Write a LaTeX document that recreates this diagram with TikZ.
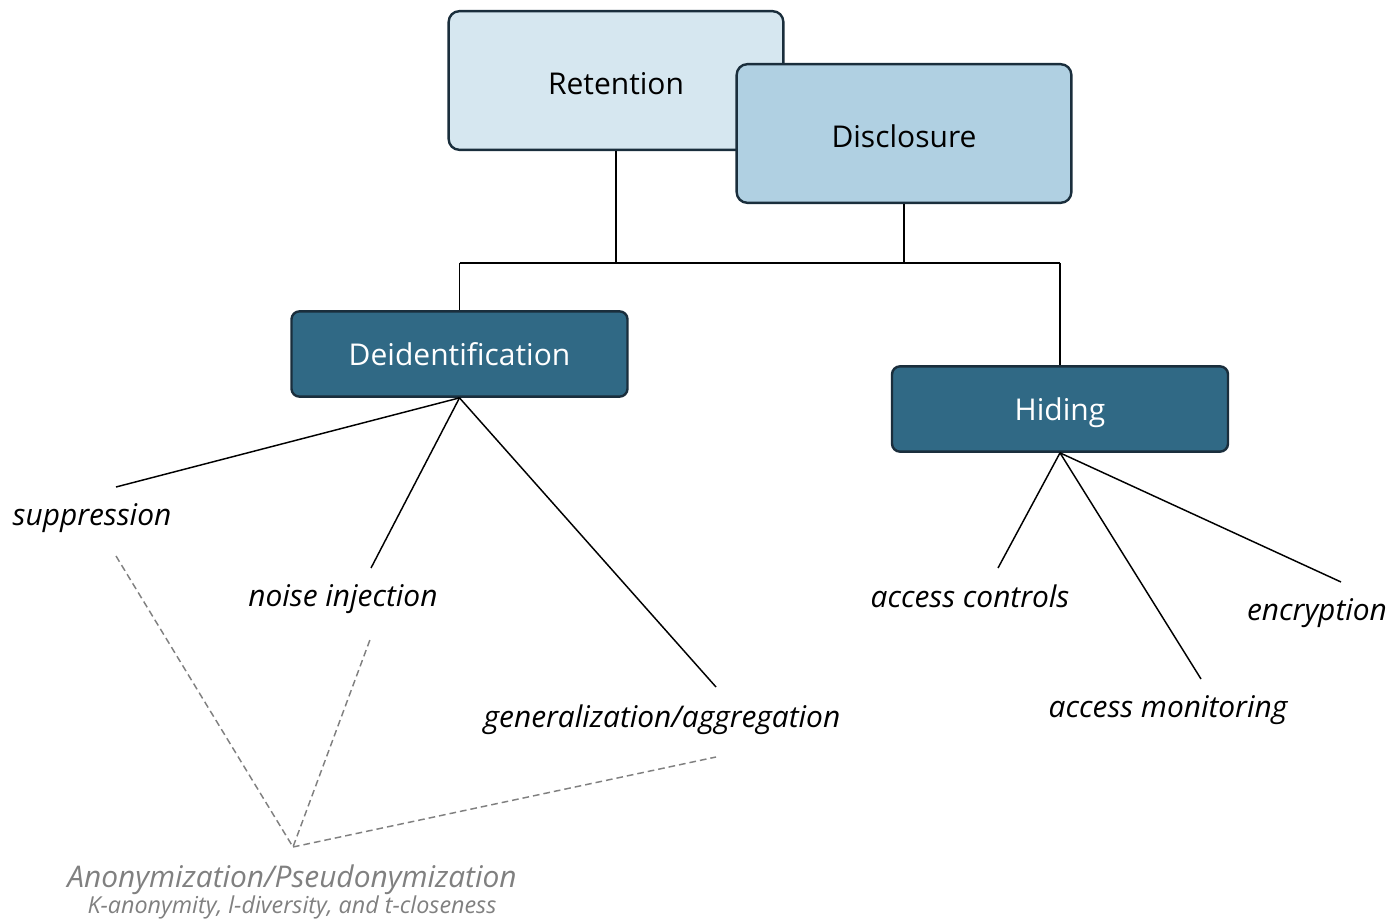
\documentclass[tikz,border=0pt]{standalone}
\usepackage{fontspec}
\setmainfont{Open Sans}
\usetikzlibrary{positioning}

\definecolor{paleblue}{HTML}{D6E7F0}
\definecolor{midblue}{HTML}{B0D0E2}
\definecolor{deepblue}{HTML}{306985}
\definecolor{edgeblue}{HTML}{1A2E3C}
\definecolor{softgray}{HTML}{808080}

\tikzset{
  topbox/.style={draw=edgeblue,line width=1.8pt,rounded corners=8pt,minimum width=251pt,minimum height=104pt,text height=21pt,text depth=0pt,font=\fontsize{22.5}{27}\selectfont},
  lowbox/.style={draw=edgeblue,line width=1.8pt,rounded corners=6pt,fill=deepblue,text=white,minimum width=252pt,minimum height=64pt,text depth=0pt,font=\fontsize{22.5}{27}\selectfont},
  leaf/.style={font=\fontsize{22.4}{27}\selectfont\itshape,inner sep=0pt,text depth=0pt},
  branch/.style={draw=black,line width=1.1pt},
  hint/.style={draw=softgray,line width=1.1pt,dashed,dash pattern=on 5pt off 3pt},
}

\begin{document}
\begin{tikzpicture}[x=0.75pt,y=-0.75pt]
  \useasboundingbox (0,0) rectangle (1395,923);

  % top level
  \node[topbox,fill=paleblue] (retention) at (616,80.5) {Retention};
  \node[topbox,fill=midblue] (disclosure) at (904,133.5) {Disclosure};

  % second level
  \node[lowbox] (deid) at (459.5,354) {Deidentification};
  \node[lowbox] (hiding) at (1060,409) {Hiding};

  \coordinate (join) at (retention.south |- 0,263);
  \coordinate (joinl) at (deid.north |- join);
  \coordinate (joinr) at (hiding.north |- join);

  % leaves under deidentification
  \node[leaf] (suppr) at (92,515) {suppression};
  \node[leaf] (noise) at (343,596) {noise injection};
  \node[leaf] (gener) at (662,716) {generalization/aggregation};
  \coordinate (supprtop) at (116,487);
  \coordinate (noisetop) at (371,568);
  \coordinate (genertop) at (716,687);

  % leaves under hiding
  \node[leaf] (acc) at (970,596) {access controls};
  \node[leaf] (mon) at (1168,707) {access monitoring};
  \node[leaf] (enc) at (1317,610) {encryption};
  \coordinate (acctop) at (998,568);
  \coordinate (montop) at (1201,679);
  \coordinate (enctop) at (1341,582);

  % anonymization
  \node[leaf,text=softgray] (anon) at (292,876) {Anonymization/Pseudonymization};
  \node[text=softgray,font=\fontsize{17.5}{21}\selectfont\itshape,inner sep=0pt,below=6pt of anon] (anonsub) {K-anonymity, l-diversity, and t-closeness};
  \coordinate (meet) at (293,847);
  \coordinate (supprlow) at (116,556);
  \coordinate (noiselow) at (371,637);
  \coordinate (generlow) at (716,757);

  \draw[branch] (retention.south) -- (join);
  \draw[branch] (disclosure.south) -- (disclosure.south |- join);
  \draw[branch] (joinl) -- (joinr);
  \draw[branch] (joinl) -- (deid.north);
  \draw[branch] (joinr) -- (hiding.north);

  \draw[branch] (deid.south) -- (supprtop);
  \draw[branch] (deid.south) -- (noisetop);
  \draw[branch] (deid.south) -- (genertop);
  \draw[branch] (hiding.south) -- (acctop);
  \draw[branch] (hiding.south) -- (montop);
  \draw[branch] (hiding.south) -- (enctop);

  \draw[hint] (supprlow) -- (meet) -- (noiselow);
  \draw[hint] (meet) -- (generlow);
\end{tikzpicture}
\end{document}
